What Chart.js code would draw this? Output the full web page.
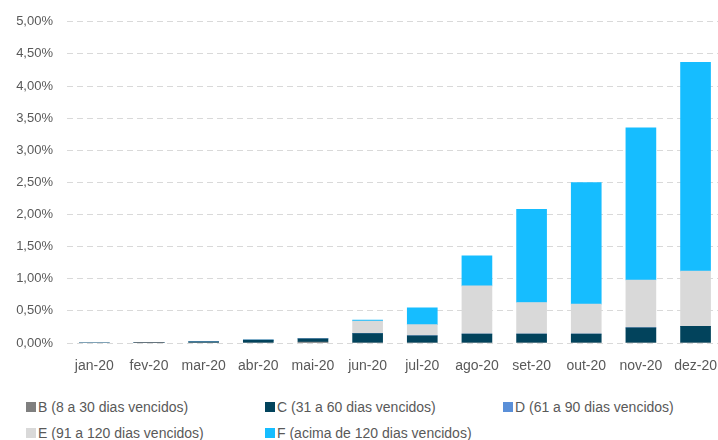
<!DOCTYPE html>
<html>
<head>
<meta charset="utf-8">
<script src="https://cdn.jsdelivr.net/npm/chart.js@4.4.1/dist/chart.umd.min.js"></script>
<style>
  html, body { margin: 0; padding: 0; background: #fff; overflow: hidden; }
  #wrap { position: absolute; left: 0; top: 0; width: 724px; height: 380px; }
  .leg { position: absolute; font: 14px "Liberation Sans", Arial, sans-serif; color: #595959; line-height: 16px; white-space: nowrap; }
  .box { position: absolute; width: 10px; height: 10px; }
</style>
</head>
<body>
<div id="wrap"><canvas id="chart" width="724" height="380"></canvas></div>
<div id="legend"></div>
<script>
// months
var labels = ['jan-20', 'fev-20', 'mar-20', 'abr-20', 'mai-20', 'jun-20',
              'jul-20', 'ago-20', 'set-20', 'out-20', 'nov-20', 'dez-20'];

// share of portfolio overdue, in %
var faixaB = [0, 0.005, 0, 0, 0.015, 0, 0, 0, 0, 0, 0, 0];
var faixaC = [0, 0, 0.02, 0.045, 0.05, 0.145, 0.11, 0.14, 0.14, 0.14, 0.235, 0.26];
var faixaD = [0, 0, 0, 0, 0, 0, 0, 0, 0, 0, 0, 0];
var faixaE = [0, 0, 0, 0, 0.005, 0.197, 0.175, 0.75, 0.49, 0.466, 0.745, 0.86];
var faixaF = [0, 0, 0, 0, 0, 0.015, 0.264, 0.466, 1.45, 1.89, 2.37, 3.25];

var yTicks = [0, 0.5, 1, 1.5, 2, 2.5, 3, 3.5, 4, 4.5, 5];

var series = [
  { label: 'B (8 a 30 dias vencidos)', data: faixaB, color: '#7f7f7f' },
  { label: 'C (31 a 60 dias vencidos)', data: faixaC, color: '#02435c' },
  { label: 'D (61 a 90 dias vencidos)', data: faixaD, color: '#5a8fd8' },
  { label: 'E (91 a 120 dias vencidos)', data: faixaE, color: '#d9d9d9' },
  { label: 'F (acima de 120 dias vencidos)', data: faixaF, color: '#16bdff' }
];

var fontFamily = '"Liberation Sans", Arial, sans-serif';

var chart = new Chart(document.getElementById('chart'), {
  type: 'bar',
  data: {
    labels: labels,
    datasets: series.map(function (s) {
      return {
        label: s.label,
        data: s.data,
        backgroundColor: s.color,
        borderWidth: 0,
        barThickness: 30
      };
    })
  },
  options: {
    responsive: false,
    animation: false,
    layout: { padding: { top: 21, right: 1, left: 0, bottom: 0 } },
    plugins: {
      legend: { display: false },
      tooltip: { enabled: false }
    },
    scales: {
      x: {
        stacked: true,
        grid: { display: false },
        border: { display: false },
        ticks: {
          color: '#595959',
          padding: 7,
          maxRotation: 0,
          font: { family: fontFamily, size: 14 }
        },
        afterFit: function (s) { s.height = 37; }
      },
      y: {
        stacked: true,
        min: 0,
        max: 5,
        afterBuildTicks: function (s) {
          s.ticks = yTicks.map(function (v) { return { value: v }; });
        },
        grid: { color: '#d9d9d9', lineWidth: 1, drawTicks: false },
        border: { display: false, dash: [6, 4] },
        ticks: {
          color: '#595959',
          padding: 14,
          font: { family: fontFamily, size: 13 },
          callback: function (v) { return v.toFixed(2).replace('.', ',') + '%'; }
        },
        afterFit: function (s) { s.width = 67; }
      }
    }
  }
});

// legend laid out in columns like the original
var legPos = [
  { bx: 26, tx: 38, y: 399 },
  { bx: 265, tx: 277, y: 399 },
  { bx: 503, tx: 515, y: 399 },
  { bx: 26, tx: 38, y: 425 },
  { bx: 265, tx: 277, y: 425 }
];
var legend = document.getElementById('legend');
series.forEach(function (s, i) {
  var p = legPos[i];
  var box = document.createElement('div');
  box.className = 'box';
  box.style.left = p.bx + 'px';
  box.style.top = (p.y + 3) + 'px';
  box.style.background = s.color;
  legend.appendChild(box);
  var txt = document.createElement('div');
  txt.className = 'leg';
  txt.style.left = p.tx + 'px';
  txt.style.top = p.y + 'px';
  txt.textContent = s.label;
  legend.appendChild(txt);
});
</script>
</body>
</html>
